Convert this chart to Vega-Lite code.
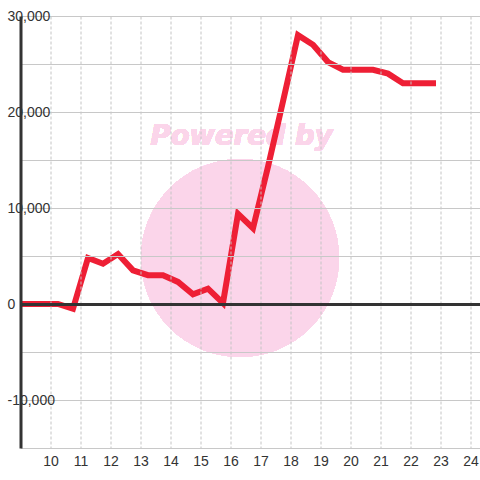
{
  "$schema": "https://vega.github.io/schema/vega-lite/v6.json",
  "width": 459.5,
  "height": 432,
  "autosize": {"type": "none"},
  "padding": {"left": 20.5, "top": 16, "right": 0, "bottom": 32},
  "background": "#ffffff",
  "config": {
    "view": {"stroke": null},
    "font": "Liberation Sans",
    "axis": {
      "title": null,
      "ticks": false,
      "tickSize": 0,
      "labelFontSize": 14,
      "labelColor": "#333333",
      "labelFlush": false,
      "labelOverlap": false,
      "grid": true,
      "gridColor": "#c8c8c8",
      "gridWidth": 1
    },
    "axisX": {
      "gridDash": [3, 2],
      "gridColor": "#c4c4c4",
      "domainColor": "#c8c8c8",
      "domainWidth": 1,
      "labelPadding": 6
    },
    "axisY": {
      "labelAlign": "left",
      "labelBaseline": "middle",
      "labelPadding": 13.5,
      "domainColor": "#333333",
      "domainWidth": 3,
      "gridColor": {"condition": {"test": "datum.value === 0", "value": "#333333"}, "value": "#c8c8c8"},
      "gridWidth": {"condition": {"test": "datum.value === 0", "value": 3}, "value": 1}
    }
  },
  "data": {
    "values": [
      {"hour": 8.75, "value": 0},
      {"hour": 9.25, "value": 0},
      {"hour": 9.75, "value": 0},
      {"hour": 10.25, "value": 0},
      {"hour": 10.75, "value": -500},
      {"hour": 11.25, "value": 4800},
      {"hour": 11.75, "value": 4200},
      {"hour": 12.25, "value": 5200},
      {"hour": 12.75, "value": 3500},
      {"hour": 13.25, "value": 3000},
      {"hour": 13.75, "value": 3000},
      {"hour": 14.25, "value": 2300},
      {"hour": 14.75, "value": 1000},
      {"hour": 15.25, "value": 1600},
      {"hour": 15.75, "value": 100},
      {"hour": 16.25, "value": 9400},
      {"hour": 16.75, "value": 7900},
      {"hour": 17.25, "value": 14300},
      {"hour": 17.75, "value": 21100},
      {"hour": 18.25, "value": 28000},
      {"hour": 18.75, "value": 27000},
      {"hour": 19.25, "value": 25200},
      {"hour": 19.75, "value": 24400},
      {"hour": 20.25, "value": 24400},
      {"hour": 20.75, "value": 24400},
      {"hour": 21.25, "value": 24000},
      {"hour": 21.75, "value": 23000},
      {"hour": 22.25, "value": 23000},
      {"hour": 22.75, "value": 23000}
    ]
  },
  "layer": [
    {
      "mark": {"type": "point", "shape": "circle", "filled": true, "size": 39204, "fill": "#fbd5ea", "opacity": 1, "strokeWidth": 0},
      "encoding": {
        "x": {"datum": 16.317, "type": "quantitative", "scale": {"domain": [9, 24.3167], "nice": false, "zero": false}, "axis": {"values": [10, 11, 12, 13, 14, 15, 16, 17, 18, 19, 20, 21, 22, 23, 24], "format": "d", "zindex": 1}},
        "y": {"datum": 4792, "type": "quantitative", "scale": {"domain": [-15000, 30000], "nice": false}, "axis": {"values": [-15000, -10000, -5000, 0, 5000, 10000, 15000, 20000, 25000, 30000], "labelExpr": "datum.value % 10000 === 0 ? replace(format(datum.value, ','), '\u2212', '-') : ''", "zindex": 1}}
      }
    },
    {
      "mark": {"type": "text", "text": "Powered by", "font": "DejaVu Sans", "fontWeight": "bold", "fontStyle": "italic", "fontSize": 27.5, "align": "center", "baseline": "alphabetic", "fill": "#fbd5ea", "opacity": 1},
      "encoding": {
        "x": {"datum": 16.37, "type": "quantitative", "axis": {"values": [10, 11, 12, 13, 14, 15, 16, 17, 18, 19, 20, 21, 22, 23, 24], "format": "d", "zindex": 1}},
        "y": {"datum": 16560, "type": "quantitative", "axis": {"values": [-15000, -10000, -5000, 0, 5000, 10000, 15000, 20000, 25000, 30000], "labelExpr": "datum.value % 10000 === 0 ? replace(format(datum.value, ','), '\u2212', '-') : ''", "zindex": 1}}
      }
    },
    {
      "mark": {"type": "line", "color": "#ee1f35", "strokeWidth": 6, "strokeCap": "square", "clip": true},
      "encoding": {
        "x": {"field": "hour", "type": "quantitative", "axis": {"values": [10, 11, 12, 13, 14, 15, 16, 17, 18, 19, 20, 21, 22, 23, 24], "format": "d", "zindex": 1}},
        "y": {"field": "value", "type": "quantitative", "axis": {"values": [-15000, -10000, -5000, 0, 5000, 10000, 15000, 20000, 25000, 30000], "labelExpr": "datum.value % 10000 === 0 ? replace(format(datum.value, ','), '\u2212', '-') : ''", "zindex": 1}}
      }
    }
  ]
}
